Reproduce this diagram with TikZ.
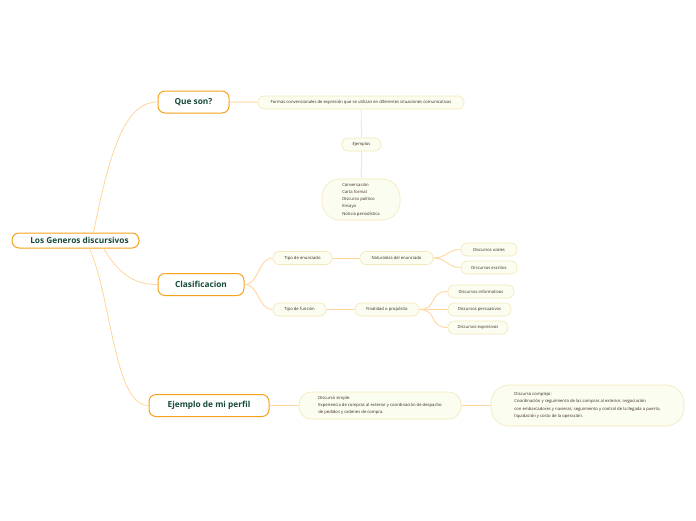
\documentclass[tikz,border=0pt]{standalone}
\usepackage{fontspec}
\setmainfont{Open Sans}
\usetikzlibrary{positioning}
\definecolor{topicline}{HTML}{F7A21B}
\definecolor{topictext}{HTML}{164A3A}
\definecolor{leafline}{HTML}{F3E7B8}
\definecolor{leaffill}{HTML}{FBFDF1}
\definecolor{leaftext}{HTML}{3A2C24}
\definecolor{rootlink}{HTML}{FFD28E}
\definecolor{leaflink}{HTML}{FFD79E}
\begin{document}
\begin{tikzpicture}[x=1pt,y=-1pt,
  topic/.style={draw=topicline, line width=1pt, fill=white, rounded corners=7pt,
    minimum height=22pt, inner sep=0pt, font=\fontsize{8.3}{10}\selectfont\bfseries, text=topictext},
  leaf/.style={draw=leafline, line width=0.6pt, fill=leaffill, rounded corners=6pt,
    minimum height=13pt, inner sep=0pt, font=\fontsize{4.2}{7.3}\selectfont, text=leaftext},
  mainlink/.style={draw=rootlink, line width=0.7pt},
  sublink/.style={draw=leaflink, line width=0.9pt}]

  \useasboundingbox (0,0) rectangle (696,520);

  % Central topic and main topics
  \node[topic, minimum width=127pt, minimum height=15pt] (root) at (75.5,240.5) {\hspace{8pt}Los Generos discursivos};
  \node[topic, minimum width=71pt] (queson) at (193.5,102) {Que son?};
  \node[topic, minimum width=86pt] (clasif) at (201,284.5) {Clasificacion};
  \node[topic, minimum width=120pt] (perfil) at (209,405.5) {Ejemplo de mi perfil};

  % Que son?
  \node[leaf, minimum width=206pt] (formas) at (361,102.5) {Formas convencionales de expresión que se utilizan en diferentes situaciones comunicativas};
  \node[leaf, minimum width=39pt] (ejemplos) at (361.5,144.5) {Ejemplos};
  \node[leaf, minimum width=78pt, minimum height=41pt, rounded corners=18pt, align=left] (lista) at (361,199.5)
    {Conversación\\Carta formal\\Discurso político\\Ensayo\\Noticia periodística};

  % Clasificacion
  \node[leaf, minimum width=59pt] (enunciado) at (302.5,258) {Tipo de enunciado};
  \node[leaf, minimum width=73pt] (naturaleza) at (396.5,258) {Naturaleza del enunciado};
  \node[leaf, minimum width=56pt] (orales) at (489,249.5) {Discursos orales};
  \node[leaf, minimum width=56pt] (escritos) at (489,267.5) {Discursos escritos};
  \node[leaf, minimum width=53pt] (funcion) at (299.5,309.5) {Tipo de función};
  \node[leaf, minimum width=64pt] (finalidad) at (387,309.5) {Finalidad o propósito};
  \node[leaf, minimum width=66pt] (informativos) at (481,291.5) {Discursos informativos};
  \node[leaf, minimum width=63pt] (persuasivos) at (479.5,309.5) {Discursos persuasivos};
  \node[leaf, minimum width=60pt] (expresivos) at (478,327.5) {Discursos expresivos};

  % Ejemplo de mi perfil
  \node[leaf, minimum width=162pt, minimum height=27pt, rounded corners=12pt, align=left] (simple) at (380,405.5)
    {Discursó simple:\\Experiencia de compras al exterior y coordinación de despacho\\de pedidos y ordenes de compra.};
  \node[leaf, minimum width=193pt, minimum height=41pt, rounded corners=18pt, align=left] (complejo) at (587.5,405.5)
    {Discurso complejo:\\Coordinación y seguimiento de las compras al exterior, negociación\\con embarcadores y navieras; seguimiento y control de la llegada a puerto,\\liquidación y costo de la operación.};

  % links from the central topic
  \draw[mainlink] ([xshift=18pt]root.north) .. controls (110,150) and (125,102) .. (queson.west);
  \draw[mainlink] ([xshift=28pt]root.south) .. controls (118,272) and (132,284.5) .. (clasif.west);
  \draw[mainlink] ([xshift=14pt]root.south) .. controls (112,300) and (114,405.5) .. (perfil.west);

  % links of the branches
  \draw[sublink] (queson) -- (formas);
  \draw[sublink, line width=0.6pt] (formas) -- (ejemplos);
  \draw[sublink, line width=0.6pt] (ejemplos) -- (lista);

  \draw[sublink] (clasif.east) .. controls (259,284.5) and (258,258) .. (enunciado.west);
  \draw[sublink] (clasif.east) .. controls (259,284.5) and (258,309.5) .. (funcion.west);
  \draw[sublink] (enunciado) -- (naturaleza);
  \draw[sublink] (funcion) -- (finalidad);
  \draw[sublink] (naturaleza.east) .. controls (447,258) and (447,249.5) .. (orales.west);
  \draw[sublink] (naturaleza.east) .. controls (447,258) and (447,267.5) .. (escritos.west);
  \draw[sublink] (finalidad.east) .. controls (438,309.5) and (428,291.5) .. (informativos.west);
  \draw[sublink] (finalidad) -- (persuasivos);
  \draw[sublink] (finalidad.east) .. controls (438,309.5) and (428,327.5) .. (expresivos.west);

  \draw[sublink] (perfil) -- (simple);
  \draw[sublink] (simple) -- (complejo);
\end{tikzpicture}
\end{document}
